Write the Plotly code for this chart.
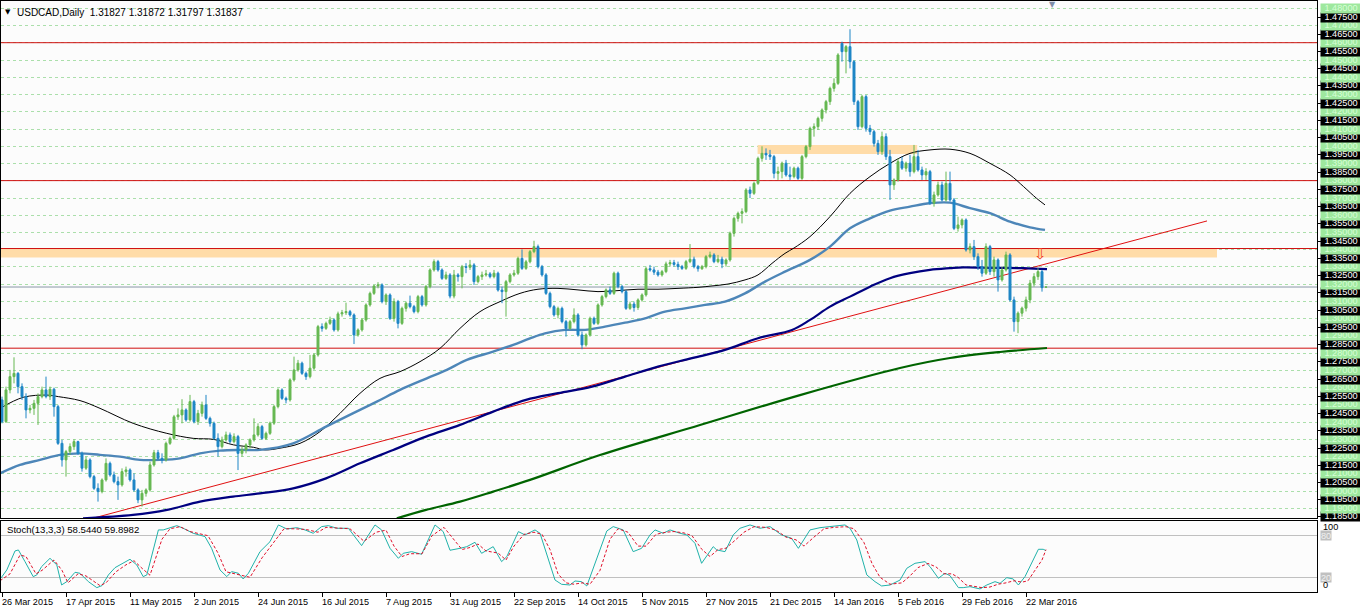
import plotly.graph_objects as go

# ---------------- data ----------------
opens = [
 1.2529,1.2403,1.2587,1.2664,1.2683,1.2606,1.2548,1.2471,1.2480,1.2509,
 1.2548,1.2587,1.2548,1.2591,1.2490,1.2277,1.2181,1.2229,1.2258,1.2287,
 1.2219,1.2133,1.2181,1.2084,1.2016,1.1997,1.2065,1.2161,1.2094,1.2055,
 1.2036,1.2113,1.2123,1.2065,1.2007,1.1949,1.1987,1.2007,1.2152,1.2223,
 1.2190,1.2181,1.2277,1.2306,1.2431,1.2442,1.2471,1.2413,1.2519,1.2403,
 1.2451,1.2500,1.2422,1.2393,1.2306,1.2258,1.2297,1.2326,1.2287,1.2316,
 1.2219,1.2239,1.2268,1.2297,1.2326,1.2374,1.2306,1.2335,1.2394,1.2490,
 1.2587,1.2538,1.2529,1.2645,1.2703,1.2742,1.2683,1.2664,1.2713,1.2790,
 1.2954,1.2944,1.2973,1.2993,1.2935,1.3028,1.3035,1.3041,1.3022,1.2906,
 1.2935,1.2993,1.3080,1.3147,1.3190,1.3196,1.3099,1.3138,1.3002,1.3099,
 1.2973,1.3060,1.3090,1.3070,1.3041,1.3128,1.3080,1.3186,1.3283,1.3331,
 1.3283,1.3234,1.3254,1.3131,1.3254,1.3244,1.3302,1.3298,1.3312,1.3215,
 1.3244,1.3254,1.3260,1.3244,1.3264,1.3166,1.3157,1.3215,1.3254,1.3264,
 1.3350,1.3292,1.3330,1.3389,1.3418,1.3302,1.3254,1.3147,1.3070,1.3022,
 1.3060,1.2983,1.2944,1.2983,1.3022,1.2906,1.2848,1.2906,1.3002,1.2973,
 1.3080,1.3128,1.3167,1.3147,1.3264,1.3186,1.3157,1.3060,1.3085,1.3065,
 1.3109,1.3138,1.3290,1.3283,1.3270,1.3254,1.3273,1.3318,1.3325,1.3315,
 1.3302,1.3292,1.3331,1.3345,1.3302,1.3290,1.3302,1.3360,1.3370,1.3331,
 1.3345,1.3318,1.3341,1.3495,1.3582,1.3611,1.3621,1.3747,1.3727,1.3785,
 1.3930,1.3959,1.3950,1.3940,1.3843,1.3853,1.3902,1.3834,1.3824,1.3873,
 1.3814,1.3940,1.3998,1.4104,1.4114,1.4162,1.4211,1.4259,1.4336,1.4365,
 1.4597,1.4549,1.4578,1.4491,1.4259,1.4114,1.4288,1.4104,1.4085,1.4017,
 1.3969,1.4056,1.3940,1.3776,1.3805,1.3911,1.3873,1.3902,1.3853,1.3940,
 1.3863,1.3834,1.3853,1.3670,1.3718,1.3776,1.3689,1.3785,1.3689,1.3524,
 1.3544,1.3573,1.3399,1.3418,1.3360,1.3302,1.3264,1.3418,1.3273,1.3341,
 1.3225,1.3283,1.3370,1.3109,1.2983,1.3032,1.3061,1.3109,1.3206,1.3244,
 1.3273,1.31827]
highs = [
 1.2548,1.2606,1.2703,1.2776,1.2690,1.2625,1.2567,1.2500,1.2529,1.2567,
 1.2606,1.2664,1.2606,1.2600,1.2500,1.2297,1.2239,1.2277,1.2300,1.2292,
 1.2229,1.2200,1.2190,1.2094,1.2045,1.2074,1.2190,1.2171,1.2113,1.2084,
 1.2132,1.2142,1.2132,1.2103,1.2016,1.2007,1.2016,1.2171,1.2239,1.2239,
 1.2219,1.2287,1.2316,1.2442,1.2480,1.2533,1.2480,1.2558,1.2529,1.2471,
 1.2519,1.2558,1.2432,1.2403,1.2335,1.2316,1.2345,1.2340,1.2335,1.2326,
 1.2258,1.2277,1.2306,1.2422,1.2393,1.2384,1.2345,1.2403,1.2500,1.2596,
 1.2596,1.2548,1.2654,1.2780,1.2761,1.2751,1.2693,1.2790,1.2799,1.2964,
 1.2973,1.2983,1.3012,1.3002,1.3041,1.3051,1.3093,1.3051,1.3031,1.2944,
 1.3002,1.3089,1.3157,1.3196,1.3212,1.3205,1.3147,1.3147,1.3118,1.3109,
 1.3070,1.3099,1.3134,1.3080,1.3138,1.3138,1.3196,1.3292,1.3344,1.3341,
 1.3292,1.3273,1.3264,1.3283,1.3264,1.3312,1.3322,1.3341,1.3322,1.3254,
 1.3273,1.3283,1.3270,1.3283,1.3273,1.3186,1.3225,1.3264,1.3283,1.3360,
 1.3402,1.3341,1.3399,1.3452,1.3430,1.3312,1.3264,1.3157,1.3080,1.3070,
 1.3070,1.2993,1.2993,1.3060,1.3032,1.2925,1.2915,1.3012,1.3012,1.3089,
 1.3138,1.3176,1.3186,1.3273,1.3273,1.3196,1.3167,1.3099,1.3099,1.3118,
 1.3147,1.3302,1.3312,1.3302,1.3283,1.3283,1.3331,1.3341,1.3341,1.3331,
 1.3312,1.3341,1.3433,1.3360,1.3312,1.3312,1.3370,1.3389,1.3380,1.3370,
 1.3360,1.3350,1.3505,1.3592,1.3621,1.3640,1.3757,1.3766,1.3795,1.3940,
 1.4000,1.3988,1.3979,1.3950,1.3882,1.3911,1.3921,1.3882,1.3882,1.3882,
 1.3950,1.4008,1.4114,1.4133,1.4172,1.4220,1.4269,1.4346,1.4394,1.4540,
 1.4607,1.4587,1.4679,1.4500,1.4269,1.4298,1.4298,1.4124,1.4095,1.4037,
 1.4085,1.4075,1.3979,1.3814,1.3930,1.3940,1.3911,1.3950,1.4008,1.3979,
 1.3882,1.3873,1.3863,1.3737,1.3795,1.3795,1.3853,1.3853,1.3700,1.3592,
 1.3582,1.3582,1.3437,1.3457,1.3379,1.3341,1.3437,1.3428,1.3360,1.3350,
 1.3302,1.3389,1.3380,1.3128,1.3042,1.3070,1.3128,1.3225,1.3264,1.3293,
 1.3283,1.31872]
lows = [
 1.2393,1.2395,1.2567,1.2625,1.2567,1.2529,1.2422,1.2451,1.2442,1.2384,
 1.2538,1.2538,1.2529,1.2432,1.2268,1.2142,1.2084,1.2210,1.2239,1.2210,
 1.2113,1.2123,1.2074,1.2007,1.1939,1.1987,1.2055,1.2084,1.2045,1.1949,
 1.2026,1.2084,1.2055,1.1997,1.1930,1.1910,1.1968,1.1997,1.2142,1.2181,
 1.2161,1.2171,1.2268,1.2297,1.2413,1.2393,1.2403,1.2403,1.2393,1.2384,
 1.2432,1.2413,1.2374,1.2297,1.2200,1.2248,1.2287,1.2277,1.2277,1.2122,
 1.2200,1.2219,1.2248,1.2287,1.2316,1.2297,1.2297,1.2326,1.2384,1.2480,
 1.2529,1.2509,1.2519,1.2635,1.2693,1.2674,1.2645,1.2654,1.2703,1.2780,
 1.2925,1.2935,1.2964,1.2925,1.2925,1.3012,1.3022,1.3012,1.2853,1.2896,
 1.2925,1.2983,1.3070,1.3138,1.3176,1.3089,1.3080,1.2993,1.2983,1.2944,
 1.2964,1.3041,1.3060,1.3031,1.3031,1.3070,1.3070,1.3176,1.3273,1.3273,
 1.3225,1.3225,1.3118,1.3118,1.3215,1.3176,1.3264,1.3283,1.3196,1.3205,
 1.3225,1.3244,1.3234,1.3234,1.3157,1.3090,1.3012,1.3205,1.3244,1.3254,
 1.3283,1.3283,1.3321,1.3380,1.3292,1.3244,1.3138,1.3060,1.3012,1.3002,
 1.2973,1.2896,1.2935,1.2973,1.2896,1.2823,1.2838,1.2896,1.2964,1.2964,
 1.3070,1.3118,1.3138,1.3138,1.3176,1.3147,1.3051,1.3051,1.3041,1.3051,
 1.3099,1.3128,1.3273,1.3254,1.3244,1.3244,1.3264,1.3302,1.3302,1.3283,
 1.3283,1.3283,1.3322,1.3292,1.3273,1.3283,1.3292,1.3350,1.3322,1.3322,
 1.3293,1.3302,1.3331,1.3476,1.3563,1.3553,1.3612,1.3700,1.3718,1.3776,
 1.3911,1.3921,1.3921,1.3814,1.3805,1.3814,1.3824,1.3805,1.3814,1.3805,
 1.3805,1.3930,1.3979,1.4056,1.4095,1.4143,1.4191,1.4240,1.4317,1.4356,
 1.4491,1.4423,1.4452,1.4240,1.4095,1.4104,1.4085,1.4066,1.3998,1.3950,
 1.3950,1.3921,1.3689,1.3747,1.3795,1.3863,1.3853,1.3824,1.3843,1.3853,
 1.3805,1.3805,1.3660,1.3650,1.3708,1.3680,1.3680,1.3680,1.3514,1.3505,
 1.3524,1.3389,1.3379,1.3341,1.3283,1.3244,1.3254,1.3254,1.3244,1.3157,
 1.3215,1.3273,1.3100,1.2925,1.2916,1.3012,1.3042,1.3090,1.3186,1.3225,
 1.3157,1.31797]
closes = [
 1.2403,1.2587,1.2664,1.2683,1.2606,1.2548,1.2471,1.2480,1.2509,1.2548,
 1.2587,1.2548,1.2591,1.2490,1.2277,1.2181,1.2229,1.2258,1.2287,1.2219,
 1.2133,1.2181,1.2084,1.2016,1.1997,1.2065,1.2161,1.2094,1.2055,1.2036,
 1.2113,1.2123,1.2065,1.2007,1.1949,1.1987,1.2007,1.2152,1.2223,1.2190,
 1.2181,1.2277,1.2306,1.2431,1.2442,1.2471,1.2413,1.2519,1.2403,1.2451,
 1.2500,1.2422,1.2393,1.2306,1.2258,1.2297,1.2326,1.2287,1.2316,1.2219,
 1.2239,1.2268,1.2297,1.2326,1.2374,1.2306,1.2335,1.2394,1.2490,1.2587,
 1.2538,1.2529,1.2645,1.2703,1.2742,1.2683,1.2664,1.2713,1.2790,1.2954,
 1.2944,1.2973,1.2993,1.2935,1.3028,1.3035,1.3041,1.3022,1.2906,1.2935,
 1.2993,1.3080,1.3147,1.3190,1.3196,1.3099,1.3138,1.3002,1.3099,1.2973,
 1.3060,1.3090,1.3070,1.3041,1.3128,1.3080,1.3186,1.3283,1.3331,1.3283,
 1.3234,1.3254,1.3131,1.3254,1.3244,1.3302,1.3298,1.3312,1.3215,1.3244,
 1.3254,1.3260,1.3244,1.3264,1.3166,1.3157,1.3215,1.3254,1.3264,1.3350,
 1.3292,1.3330,1.3389,1.3418,1.3302,1.3254,1.3147,1.3070,1.3022,1.3060,
 1.2983,1.2944,1.2983,1.3022,1.2906,1.2848,1.2906,1.3002,1.2973,1.3080,
 1.3128,1.3167,1.3147,1.3264,1.3186,1.3157,1.3060,1.3085,1.3065,1.3109,
 1.3138,1.3290,1.3283,1.3270,1.3254,1.3273,1.3318,1.3325,1.3315,1.3302,
 1.3292,1.3331,1.3345,1.3302,1.3290,1.3302,1.3360,1.3370,1.3331,1.3345,
 1.3318,1.3341,1.3495,1.3582,1.3611,1.3621,1.3747,1.3727,1.3785,1.3930,
 1.3959,1.3950,1.3940,1.3843,1.3853,1.3902,1.3834,1.3824,1.3873,1.3814,
 1.3940,1.3998,1.4104,1.4114,1.4162,1.4211,1.4259,1.4336,1.4365,1.4530,
 1.4549,1.4578,1.4491,1.4259,1.4114,1.4288,1.4104,1.4085,1.4017,1.3969,
 1.4056,1.3940,1.3776,1.3805,1.3911,1.3873,1.3902,1.3853,1.3940,1.3863,
 1.3834,1.3853,1.3670,1.3718,1.3776,1.3689,1.3785,1.3689,1.3524,1.3544,
 1.3573,1.3399,1.3418,1.3360,1.3302,1.3264,1.3418,1.3273,1.3341,1.3225,
 1.3283,1.3370,1.3109,1.2983,1.3032,1.3061,1.3109,1.3206,1.3244,1.3273,
 1.3180,1.31837]
bars = list(range(len(closes)))

tick_bars = [0, 16, 32, 48, 64, 80, 96, 112, 128, 144, 160, 176, 192, 208, 224, 240, 256]
tick_labels = ["26 Mar 2015", "17 Apr 2015", "11 May 2015", "2 Jun 2015", "24 Jun 2015",
               "16 Jul 2015", "7 Aug 2015", "31 Aug 2015", "22 Sep 2015", "14 Oct 2015",
               "5 Nov 2015", "27 Nov 2015", "21 Dec 2015", "14 Jan 2016", "5 Feb 2016",
               "29 Feb 2016", "22 Mar 2016"]

# moving averages
ma_black_x = [-0.5, 5.3, 11.2, 14.1, 19.5, 24.5, 32.8, 41.2, 47.8, 52.9, 57.9, 62.9, 65.75,
              69.5, 74.5, 79.5, 84.5, 89.5, 94.5, 99.5, 104.5, 109.5, 114.5, 119.5, 124.5,
              129.5, 134, 139, 144, 149, 154, 159, 164, 169, 174, 177.5, 181.5, 185.75,
              189, 192.5, 195.75, 198, 202, 207, 212, 217, 222, 227, 232, 237, 242, 247,
              252, 255.4, 258.6, 260.75]
ma_black_y = [1.2480, 1.2544, 1.2557, 1.2548, 1.2525, 1.2480, 1.2393, 1.2335, 1.2306, 1.2300,
              1.2268, 1.2254, 1.2239, 1.2249, 1.2277, 1.2345, 1.2451, 1.2567, 1.2654, 1.2693,
              1.2751, 1.2828, 1.2944, 1.3041, 1.3099, 1.3147, 1.3171, 1.3176, 1.3167, 1.3157,
              1.3163, 1.3171, 1.3171, 1.3176, 1.3182, 1.3190, 1.3201, 1.3225, 1.3254, 1.3321,
              1.3379, 1.3410, 1.3476, 1.3592, 1.3727, 1.3824, 1.3901, 1.3959, 1.3979, 1.3983,
              1.3959, 1.3901, 1.3834, 1.3766, 1.3699, 1.3660]
ma_steel_x = [-0.5, 4.5, 9.5, 14.5, 19.5, 24.5, 29.5, 34.5, 39.5, 44.5, 49.5, 54.5, 59.5,
              64.5, 72.8, 81, 87.7, 93.7, 99.5, 106.2, 111.2, 116.2, 122.8, 127.8, 132,
              135.75, 140.75, 145.75, 150.75, 155.75, 160.75, 165.75, 170.75, 175.75, 180.75,
              185.75, 190.75, 195.75, 202, 207, 212, 217, 222, 227, 232, 237, 242, 247, 252,
              257, 260.75]
ma_steel_y = [1.2103, 1.2152, 1.2181, 1.2210, 1.2219, 1.2210, 1.2200, 1.2181, 1.2181, 1.2190,
              1.2219, 1.2235, 1.2239, 1.2239, 1.2277, 1.2374, 1.2451, 1.2519, 1.2587, 1.2654,
              1.2703, 1.2761, 1.2809, 1.2848, 1.2886, 1.2915, 1.2935, 1.2935, 1.2954, 1.2977,
              1.3002, 1.3041, 1.3060, 1.3080, 1.3099, 1.3147, 1.3215, 1.3273, 1.3341, 1.3418,
              1.3524, 1.3582, 1.3627, 1.3650, 1.3670, 1.3673, 1.3641, 1.3612, 1.3563, 1.3530,
              1.3515]
ma_navy_x = [20.25, 32.75, 41.25, 49.5, 57.75, 64.5, 72.8, 81, 89.5, 97.8, 106, 114.5, 122.8,
             131, 139, 147.5, 155.75, 164, 172.5, 180.75, 189, 197.5, 202, 207, 212, 217, 222,
             227, 232, 237, 240.25, 248, 255.4, 261.25]
ma_navy_y = [1.1842, 1.1862, 1.1891, 1.1939, 1.1968, 1.1987, 1.2016, 1.2074, 1.2161, 1.2239,
             1.2316, 1.2384, 1.2461, 1.2529, 1.2568, 1.2606, 1.2664, 1.2722, 1.2771, 1.2819,
             1.2887, 1.2935, 1.2993, 1.3070, 1.3128, 1.3186, 1.3235, 1.3264, 1.3283, 1.3293,
             1.3298, 1.3295, 1.3293, 1.3287]
ma_green_x = [98.7, 106, 114.5, 122.8, 132, 149.5, 174.5, 199.5, 224.5, 237, 249.5, 261.25]
ma_green_y = [1.1842, 1.1891, 1.1939, 1.1997, 1.2065, 1.2209, 1.2383, 1.2557, 1.2714, 1.2772,
              1.2807, 1.2830]

# objects
levels = [1.4601, 1.3801, 1.3407, 1.2829]
zone_start = [-1, 188.9]
zone_end = [303.75, 228.8]
zone_low = [1.3355, 1.3956]
zone_high = [1.3407, 1.4008]
trend_x = [22, 301.25]
trend_y = [1.1838, 1.3567]
last_price = 1.31837
arrow_bar, arrow_price = 259.7, 1.3378

# stochastic (13,3,3)
stoch_main_x = [-0.3, 1.2, 3.25, 4.1, 5.75, 7.8, 8.7, 9.9, 12, 13.7, 14.9, 16.2, 18.25, 19.5,
                21.6, 23.7, 25, 26.6, 28.25, 29.5, 32, 33.7, 35.3, 36.2, 39.1, 40.3, 43.7,
                45.3, 47.8, 50.75, 52.4, 54.5, 56.2, 57.4, 59.1, 60.3, 61.6, 64.5, 67, 69.1,
                71.2, 73.7, 75.75, 77.8, 79.9, 81.6, 83.7, 86.6, 89.9, 93.25, 94.9, 97, 99.1,
                100.3, 102.4, 104.9, 108.25, 110.3, 112, 114.5, 116.2, 118.25, 119.9, 122.8,
                124.9, 126.2, 129.1, 130.75, 133.25, 134.5, 136.2, 138.25, 139.9, 142, 143.25,
                144.9, 146.2, 148.7, 151.2, 152.8, 155.3, 157.8, 159.9, 162, 163.25, 165.3,
                167, 169.5, 171.2, 173.25, 174.9, 177.8, 178.7, 180.75, 182.8, 184.5, 187,
                189.5, 192, 194.9, 197.4, 199.1, 202, 204.5, 207, 210.75, 212, 213.7, 216.2,
                218.25, 219.9, 222, 224.5, 226.2, 228.25, 230.75, 232, 234.1, 235.75, 237,
                239.1, 240.3, 242, 244.5, 246.2, 248.25, 249.5, 251.2, 252.8, 254.1, 255.75,
                257.4, 259.1, 260.3, 261]
stoch_main_y = [18.6, 30.6, 58, 59.4, 42.6, 21, 23.4, 35.4, 47.4, 37.8, 9, 13.7, 27.2, 25.8,
                13.7, 5.1, 8, 23.4, 33.9, 37.8, 46, 37.8, 21, 23.4, 88.3, 88.3, 94.5,
                90.7, 83.5, 78.7, 61.8, 30.6, 21, 28.2, 25.8, 17.6, 25.8, 57, 71.4, 95.5,
                89.7, 91.6, 88.3, 83.5, 93.1, 94.5, 90.7, 90.7, 65.7, 95.5, 88.3, 61.8, 47.4,
                54.6, 57, 53.2, 95.5, 85.9, 59, 61.8, 64.2, 70.5, 54.6, 64.2,
                42.6, 49.8, 85.9, 81.1, 88.3, 83.5, 52.2, 16.1, 9.9, 8.9, 14.7,
                13.7, 7.5, 47.4, 86.8, 93.1, 88.3, 57, 61.8, 81.1, 88.3, 83.5,
                88.3, 83.5, 81.1, 69, 40.2, 64.2, 59.4, 57, 81.1, 90.7, 95.5,
                90.7, 93.1, 81.1, 76.2, 61.8, 88.3, 91.6, 93.1, 95.5, 90.7, 73.8, 23.4,
                13.7, 7.5, 8.9, 16, 33, 40.2, 42.6, 35.4, 18.6, 25.8, 22.4,
                5.1, 5.1, 6.5, 3.2, 8.9, 13.7, 11.3, 19.5, 17.6, 8.9, 21,
                40.2, 60.4, 60.4, 58.5]
stoch_sig_x = [-0.5, 2, 4.5, 6, 8.5, 10, 13, 15, 16.5, 19, 21, 24.5, 26, 28.5, 31, 33, 35, 37,
               40, 42, 44.5, 47, 51.5, 54, 56, 58, 60, 62, 65, 68, 70.5, 73, 76, 79, 81, 84,
               87, 90.5, 93.5, 96, 98, 100, 102, 105, 107.5, 110.5, 113, 115, 117, 119, 121,
               124, 126, 128, 130.5, 133, 135, 137, 139, 141, 143, 145, 147, 149.5, 152, 154,
               156.5, 159, 161, 163.5, 166, 168, 170.5, 172.5, 175, 177, 179, 181, 183, 185.5,
               188, 191, 193.5, 196, 198.5, 200.5, 203, 205.5, 208, 211, 213, 215.5, 217.5,
               219.5, 222, 225, 227, 229, 231.5, 233.5, 235.5, 237.5, 239, 241, 243, 245, 247,
               249, 251, 253, 255, 256.5, 258, 260, 261]
stoch_sig_y = [15, 25, 52, 50, 25, 30, 45, 30, 12, 25, 22, 8, 12, 28, 38, 44, 33, 23,
               75, 90, 93, 86, 80, 55, 28, 25, 22, 20, 48, 70, 90, 90, 89, 85, 92, 91,
               90, 72, 85, 88, 65, 50, 54, 54, 80, 92, 75, 60, 63, 68, 58,
               55, 45, 65, 82, 85, 82, 60, 25, 12, 10, 12, 10, 30, 75, 90,
               85, 65, 65, 82, 85, 86, 84, 80, 60, 50, 60, 62, 72, 85,
               93, 92, 88, 78, 74, 65, 78, 90, 92, 93, 90, 70, 40,
               20, 10, 12, 22, 34, 40, 35, 25, 25, 20, 9, 7, 5, 6,
               10, 12, 15, 13, 15, 28, 45, 59.9]

# ---------------- styling ----------------
FONT = "Liberation Sans"
GREEN_C = "#66B852"
BLUE_C = "#1E86C6"
X_RANGE = [-0.25, 328.75]
Y_RANGE = [1.18411, 1.48428]
S_RANGE = [-1.2, 101.2]

highs_s = [max(h, o, c) for h, o, c in zip(highs, opens, closes)]
lows_s = [min(l, o, c) for l, o, c in zip(lows, opens, closes)]

fig = go.Figure()

# moving averages (base subplot, candles drawn above them)
fig.add_trace(go.Scatter(x=ma_black_x, y=ma_black_y, mode="lines", line=dict(color="black", width=1),
                         xaxis="x", yaxis="y", hoverinfo="skip", line_shape="spline"))
fig.add_trace(go.Scatter(x=ma_steel_x, y=ma_steel_y, mode="lines", line=dict(color="#4D86B8", width=2.4),
                         xaxis="x", yaxis="y", hoverinfo="skip", line_shape="spline"))
fig.add_trace(go.Scatter(x=ma_navy_x, y=ma_navy_y, mode="lines", line=dict(color="#000080", width=2.2),
                         xaxis="x", yaxis="y", hoverinfo="skip", line_shape="spline"))
fig.add_trace(go.Scatter(x=ma_green_x, y=ma_green_y, mode="lines", line=dict(color="#006400", width=2.2),
                         xaxis="x", yaxis="y", hoverinfo="skip", line_shape="spline"))

# candles on an overlay axis so they sit on top of the averages
fig.add_trace(go.Candlestick(
    x=bars, open=opens, high=highs_s, low=lows_s, close=closes,
    xaxis="x", yaxis="y3",
    increasing=dict(line=dict(color=GREEN_C, width=1), fillcolor=GREEN_C),
    decreasing=dict(line=dict(color=BLUE_C, width=1), fillcolor=BLUE_C),
    whiskerwidth=0, hoverinfo="skip", showlegend=False))

# stochastic
fig.add_trace(go.Scatter(x=stoch_main_x, y=stoch_main_y, mode="lines",
                         line=dict(color="#20B2AA", width=1), xaxis="x2", yaxis="y2", hoverinfo="skip"))
fig.add_trace(go.Scatter(x=stoch_sig_x, y=stoch_sig_y, mode="lines",
                         line=dict(color="#E0102A", width=1, dash="3px,2px"), xaxis="x2", yaxis="y2",
                         hoverinfo="skip"))

shapes = []
for x0, x1, y0, y1 in zip(zone_start, zone_end, zone_low, zone_high):
    shapes.append(dict(type="rect", xref="x", yref="y", x0=x0, x1=x1, y0=y0, y1=y1,
                       fillcolor="#FFDCA8", line=dict(width=0), layer="between"))
for lv in levels:
    shapes.append(dict(type="line", xref="x", yref="y", x0=X_RANGE[0], x1=X_RANGE[1], y0=lv, y1=lv,
                       line=dict(color="#D01010", width=1), layer="between"))
shapes.append(dict(type="line", xref="x", yref="y", x0=X_RANGE[0], x1=X_RANGE[1],
                   y0=last_price, y1=last_price, line=dict(color="#8A98A8", width=1), layer="between"))
shapes.append(dict(type="line", xref="x", yref="y", x0=trend_x[0], x1=trend_x[1],
                   y0=trend_y[0], y1=trend_y[1], line=dict(color="#E01010", width=1), layer="between"))

annotations = []
# price labels on the right
label_prices = [round(1.185 + 0.005 * k, 3) for k in range(60)]
black_prices = []
for p in label_prices:
    is_half = round(p * 1000) % 10 == 5
    if is_half:
        black_prices.append(p)
    annotations.append(dict(
        x=1, xref="paper", xanchor="left", xshift=3, y=p, yref="y", yanchor="middle",
        text=f"{p:.5f}", showarrow=False, width=40, height=8.6, borderpad=0, align="center",
        bgcolor="#000000" if is_half else "#9EE89E",
        font=dict(family=FONT, size=9.2, color="#FFFFFF" if is_half else "#D6FFD6")))

# stochastic scale labels
annotations.append(dict(x=1, xref="paper", xanchor="left", xshift=4, y=92.6, yref="y2", yanchor="middle",
                        text="100", showarrow=False, font=dict(family=FONT, size=9.2, color="#000000")))
annotations.append(dict(x=1, xref="paper", xanchor="left", xshift=3, y=80, yref="y2", yanchor="middle",
                        text="80", showarrow=False, bgcolor="#C0C0C0", borderpad=0, height=9,
                        font=dict(family=FONT, size=9.2, color="#F0F0F0")))
annotations.append(dict(x=1, xref="paper", xanchor="left", xshift=3, y=20, yref="y2", yanchor="middle",
                        text="20", showarrow=False, bgcolor="#C0C0C0", borderpad=0, height=9,
                        font=dict(family=FONT, size=9.2, color="#F0F0F0")))
annotations.append(dict(x=1, xref="paper", xanchor="left", xshift=4, y=8.9, yref="y2", yanchor="middle",
                        text="0", showarrow=False, font=dict(family=FONT, size=9.2, color="#000000")))

# date labels
for b, t in zip(tick_bars, tick_labels):
    annotations.append(dict(x=b, xref="x2", xanchor="left", xshift=-2, y=0, yref="paper",
                            yanchor="top", yshift=-3, text=t, showarrow=False,
                            font=dict(family=FONT, size=9.1, color="#000000")))

# title and indicator caption
annotations.append(dict(x=0, xref="paper", xanchor="left", xshift=2, y=1, yref="paper", yanchor="middle",
                        yshift=-11, text="▼", showarrow=False,
                        font=dict(family="DejaVu Sans", size=7, color="#000000")))
annotations.append(dict(x=0, xref="paper", xanchor="left", xshift=14, y=1, yref="paper", yanchor="middle",
                        yshift=-11, text="USDCAD,Daily  1.31827 1.31872 1.31797 1.31837", showarrow=False,
                        font=dict(family=FONT, size=10, color="#000000")))
annotations.append(dict(x=0, xref="paper", xanchor="left", xshift=4, y=1, yref="y2 domain", yanchor="middle",
                        yshift=-9, text="Stoch(13,3,3) 58.5440 59.8982", showarrow=False,
                        font=dict(family=FONT, size=9.6, color="#000000")))
# sell arrow
annotations.append(dict(x=arrow_bar, xref="x", y=arrow_price, yref="y", text="⇩", showarrow=False,
                        font=dict(family="DejaVu Sans", size=15, color="#F04020")))
# chart shift marker
annotations.append(dict(x=262.5, xref="x", y=1, yref="paper", yanchor="top", yshift=3, text="▼",
                        showarrow=False, font=dict(family="DejaVu Sans", size=8, color="#7F8EA8")))

fig.update_layout(
    width=1360, height=614,
    margin=dict(l=1, r=43, t=1, b=22, pad=0),
    paper_bgcolor="#FFFFFF", plot_bgcolor="#FCFCFC",
    showlegend=False,
    shapes=shapes, annotations=annotations,
    xaxis=dict(domain=[0, 1], range=X_RANGE, anchor="y", showticklabels=False, ticks="",
               showgrid=False, zeroline=False, showline=True, mirror=True, linecolor="#000000",
               linewidth=1, rangeslider=dict(visible=False), fixedrange=True),
    xaxis2=dict(domain=[0, 1], range=X_RANGE, matches="x", anchor="y2", tickmode="array",
                tickvals=tick_bars, ticks="outside", ticklen=4, tickcolor="#000000",
                showticklabels=False, showgrid=False, zeroline=False, showline=True, mirror=True,
                linecolor="#000000", linewidth=1),
    yaxis=dict(domain=[0.12437, 1], range=Y_RANGE, anchor="x", tick0=1.18, dtick=0.01,
               showgrid=True, gridcolor="#ABDFAB", griddash="3px,3px", gridwidth=1,
               showticklabels=False, ticks="", zeroline=False, showline=True, mirror=True,
               linecolor="#000000", linewidth=1),
    yaxis3=dict(overlaying="y", matches="y", anchor="x", side="right", tickmode="array",
                tickvals=black_prices, ticks="outside", ticklen=3, tickcolor="#000000",
                showticklabels=False, showgrid=False, zeroline=False, showline=False),
    yaxis2=dict(domain=[0, 0.12014], range=S_RANGE, anchor="x2", tickmode="array", tickvals=[20, 80],
                showgrid=True, gridcolor="#C0C0C0", gridwidth=1, showticklabels=False, ticks="",
                zeroline=False, showline=True, mirror=True, linecolor="#000000", linewidth=1),
)

fig.write_html("out.html")
